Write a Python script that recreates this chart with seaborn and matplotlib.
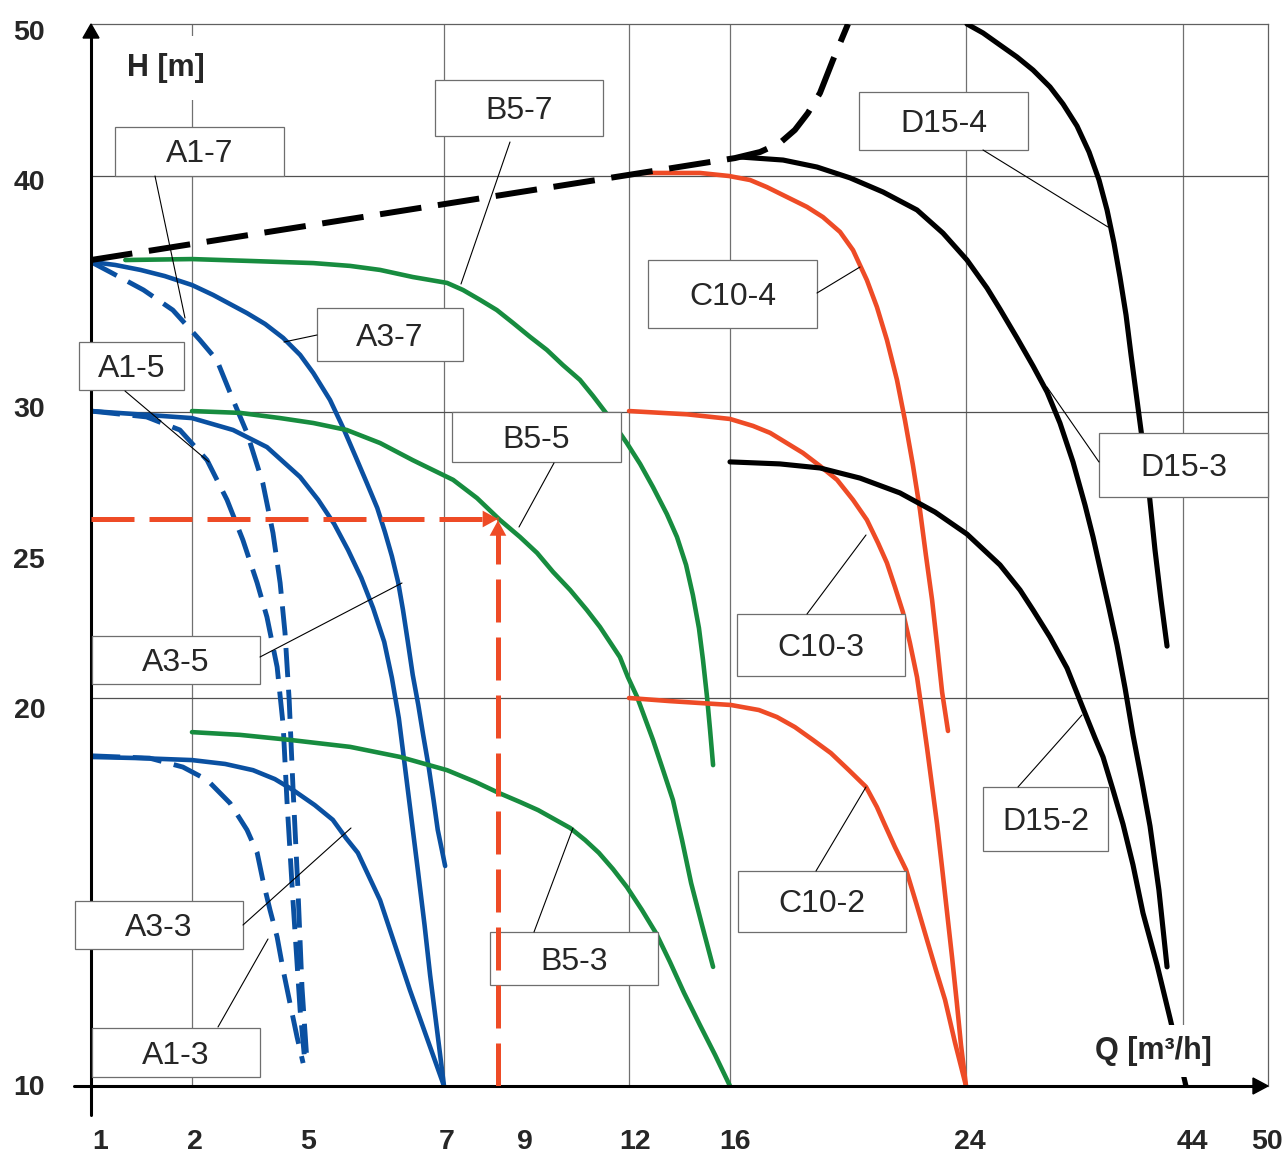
import numpy as np
import pandas as pd
import matplotlib
matplotlib.use("Agg")
import matplotlib.pyplot as plt
import matplotlib.transforms as mtransforms
from matplotlib.patches import Rectangle, Polygon
from matplotlib.lines import Line2D
import seaborn as sns

# Uneven axis scale used by the chart: tick values and their spacing (px)
q_ticks = [1, 2, 5, 7, 9, 12, 16, 24, 44, 50]
h_ticks = [10, 20, 25, 30, 40, 50]
q_span = [0, 101, 214, 353, 429, 538, 639, 875, 1092, 1177]
h_span = [0, 388, 529, 674, 910, 1062]
q_grid = [2, 7, 12, 16, 24, 44]
h_grid = [20, 30, 40]

# Envelope (black dashed)
env_q = [1.0, 16.17, 17.02, 17.69, 18.20, 18.64, 19.05, 19.49, 20.0]
env_h = [36.44, 41.18, 41.58, 42.17, 43.03, 44.14, 45.46, 47.63, 50.0]

# A series (blue)
a3_7_q = [1.0, 1.24, 1.49, 1.73, 2.0, 2.56, 3.46, 3.94, 4.42, 4.87, 5.12, 5.36, 5.55, 5.73, 5.89,
          6.04, 6.15, 6.25, 6.34, 6.41, 6.48, 6.55, 6.63, 6.70, 6.78, 6.85, 6.91, 6.97, 7.03]
a3_7_h = [36.36, 36.23, 36.02, 35.76, 35.38, 34.96, 34.19, 33.73, 33.14, 32.42, 31.65, 30.51, 29.45,
          28.45, 27.55, 26.69, 25.86, 25.03, 24.11, 23.12, 21.99, 20.82, 19.82, 19.05, 18.22, 17.37,
          16.60, 16.08, 15.67]
a3_5_q = [1.0, 1.55, 2.0, 3.09, 3.99, 4.87, 5.19, 5.42, 5.62, 5.81, 5.98, 6.14, 6.25, 6.35, 6.44,
          6.53, 6.62, 6.72, 6.80, 6.90, 7.0]
a3_5_h = [30.04, 29.90, 29.79, 29.38, 28.79, 27.76, 26.97, 26.14, 25.24, 24.26, 23.19, 21.99, 20.71,
          19.48, 18.20, 16.91, 15.62, 14.15, 12.86, 11.44, 10.0]
a3_3_q = [1.0, 1.49, 2.0, 2.88, 3.62, 4.20, 4.68, 5.14, 5.40, 5.59, 5.76, 6.08, 6.51, 7.0]
a3_3_h = [18.48, 18.45, 18.40, 18.30, 18.14, 17.91, 17.63, 17.24, 16.86, 16.39, 16.01, 14.79, 12.47, 10.0]
a1_7_q = [1.0, 1.19, 1.52, 1.81, 2.21, 2.66, 3.09, 3.46, 3.88, 4.15, 4.34, 4.47, 4.58, 4.68, 4.81,
          4.92, 5.03]
a1_7_h = [36.36, 35.93, 35.17, 34.32, 33.05, 32.20, 30.51, 29.28, 27.55, 25.83, 24.08, 22.30, 19.95,
          17.71, 15.13, 12.55, 10.59]
a1_5_q = [1.0, 1.55, 1.88, 2.40, 2.93, 3.35, 3.73, 3.99, 4.26, 4.42, 4.52, 4.68, 4.87, 5.0]
a1_5_h = [30.04, 29.83, 29.38, 28.34, 26.97, 25.59, 24.08, 22.87, 21.10, 19.30, 17.37, 14.79, 11.96, 10.59]
a1_3_q = [1.0, 1.58, 1.91, 2.40, 3.01, 3.46, 3.73, 3.88, 4.07, 4.26, 4.42, 4.60, 4.79, 4.95]
a1_3_h = [18.51, 18.45, 18.22, 17.89, 17.29, 16.60, 16.01, 15.31, 14.54, 13.84, 12.99, 12.14, 11.26, 10.59]

# B series (green)
b5_7_q = [1.34, 2.0, 3.54, 5.12, 5.65, 6.08, 6.55, 7.08, 7.50, 7.95, 8.39, 8.82, 9.28, 9.74, 10.18,
          10.65, 11.01, 11.39, 11.94, 12.44, 12.95, 13.50, 13.90, 14.26, 14.53, 14.77, 14.93, 15.09,
          15.21, 15.33]
b5_7_h = [36.44, 36.48, 36.40, 36.31, 36.19, 36.02, 35.72, 35.47, 35.17, 34.75, 34.32, 33.77, 33.18,
          32.63, 31.99, 31.36, 30.68, 29.93, 28.93, 28.21, 27.41, 26.48, 25.69, 24.72, 23.65, 22.48,
          21.35, 20.04, 19.18, 18.27]
b5_5_q = [2.0, 3.27, 4.34, 5.12, 5.60, 6.08, 6.55, 7.24, 7.87, 8.47, 9.0, 9.47, 9.91, 10.38, 10.84,
          11.20, 11.75, 11.97, 12.32, 12.95, 13.35, 13.74, 14.10, 14.46, 14.89, 15.33]
b5_5_h = [30.04, 29.97, 29.79, 29.62, 29.38, 28.93, 28.34, 27.66, 27.03, 26.28, 25.69, 25.14, 24.47,
          23.83, 23.12, 22.52, 21.45, 20.74, 20.04, 18.92, 18.14, 17.37, 16.34, 15.23, 14.15, 13.07]
b5_3_q = [2.0, 3.27, 4.60, 5.65, 6.37, 7.08, 7.82, 8.45, 9.0, 9.50, 10.38, 10.79, 11.17, 11.56, 11.94,
          12.51, 13.07, 13.62, 14.18, 14.81, 15.41, 16.0]
b5_3_h = [19.12, 19.05, 18.92, 18.74, 18.48, 18.14, 17.84, 17.55, 17.32, 17.11, 16.65, 16.34, 16.01,
          15.59, 15.13, 14.54, 13.94, 13.20, 12.40, 11.57, 10.80, 10.0]

# C series (red)
c10_4_q = [12.44, 14.81, 15.96, 16.68, 17.25, 17.93, 18.61, 19.15, 19.73, 20.17, 20.64, 20.98, 21.32,
           21.66, 21.93, 22.20, 22.44, 22.64, 22.85, 23.02, 23.19, 23.39]
c10_4_h = [40.20, 40.20, 40.0, 39.83, 39.53, 39.11, 38.69, 38.26, 37.63, 36.86, 35.59, 34.45, 33.05,
           31.36, 29.72, 28.17, 26.62, 25.07, 23.48, 21.88, 20.21, 19.15]
c10_3_q = [12.0, 14.30, 16.0, 16.78, 17.36, 18.47, 19.05, 19.63, 20.17, 20.64, 21.02, 21.32, 21.59,
           21.86, 22.10, 22.34, 22.51, 22.68, 22.85, 23.02, 23.19, 23.36, 23.53, 23.69, 23.83, 24.0]
c10_3_h = [30.04, 29.92, 29.76, 29.52, 29.28, 28.59, 28.14, 27.66, 26.97, 26.28, 25.48, 24.79, 23.94,
           23.05, 21.95, 20.74, 19.64, 18.71, 17.73, 16.75, 15.62, 14.46, 13.30, 12.14, 11.06, 10.0]
c10_2_q = [12.0, 13.62, 16.03, 16.98, 17.59, 18.20, 18.81, 19.42, 20.03, 20.61, 20.98, 21.22, 21.59,
           21.97, 22.31, 22.68, 22.98, 23.29, 23.63, 24.0]
c10_2_h = [20.0, 19.92, 19.82, 19.69, 19.51, 19.25, 18.92, 18.58, 18.14, 17.71, 17.19, 16.78, 16.16,
           15.57, 14.72, 13.76, 12.99, 12.22, 11.11, 10.0]

# D series (black)
d15_4_q = [24.09, 25.57, 27.13, 28.70, 30.18, 31.74, 32.94, 34.23, 35.34, 36.26, 37.00, 37.64, 38.19,
           38.75, 39.21, 39.76, 40.31, 40.87, 41.42, 41.97, 42.53]
d15_4_h = [50.0, 49.41, 48.62, 47.83, 46.97, 45.86, 44.74, 43.29, 41.58, 39.83, 38.56, 37.16, 35.72,
           34.11, 32.42, 30.51, 28.86, 27.24, 25.24, 23.48, 21.84]
d15_3_q = [16.34, 17.80, 18.95, 20.07, 21.19, 22.34, 23.22, 24.09, 25.94, 27.13, 28.70, 30.18, 31.47,
           32.66, 33.86, 34.97, 35.71, 36.35, 37.18, 37.92, 38.66, 39.39, 40.22, 40.96, 41.78, 42.53]
d15_3_h = [41.25, 41.05, 40.59, 39.92, 39.32, 38.56, 37.58, 36.44, 35.25, 34.36, 33.14, 31.95, 30.85,
           29.62, 28.28, 26.79, 25.69, 24.61, 23.19, 21.88, 20.35, 19.05, 17.84, 16.70, 15.05, 13.07]
d15_2_q = [16.0, 17.69, 19.05, 20.41, 21.76, 22.95, 24.09, 27.13, 28.98, 30.18, 31.74, 33.31, 34.78,
           35.89, 36.63, 37.55, 38.47, 39.39, 40.31, 41.61, 42.80, 44.21]
d15_2_h = [28.28, 28.21, 28.07, 27.72, 27.21, 26.55, 25.79, 24.72, 23.83, 23.12, 22.16, 21.06, 19.74,
           18.97, 18.48, 17.63, 16.75, 15.70, 14.46, 13.12, 11.75, 10.0]

# Operating point (red dashed arrows)
q_op = 8.42
h_op = 26.31

BLUE = "#0A50A1"
GREEN = "#178C3F"
RED = "#EE4B26"
W, H = 1284, 1154

sns.set_style("white")
plt.rcParams["font.family"] = ["Liberation Sans", "DejaVu Sans"]

fig = plt.figure(figsize=(W / 100, H / 100), dpi=100)
ax = fig.add_axes([91 / W, 1 - 1086 / H, 1177 / W, 1062 / H])

ax.set_xscale("function", functions=(lambda v: np.interp(v, q_ticks, q_span),
                                     lambda p: np.interp(p, q_span, q_ticks)))
ax.set_yscale("function", functions=(lambda v: np.interp(v, h_ticks, h_span),
                                     lambda p: np.interp(p, h_span, h_ticks)))
ax.set_xlim(1, 50)
ax.set_ylim(10, 50)

# grid
for q in q_grid:
    ax.axvline(q, color="#707070", lw=0.9, zorder=1)
for h in h_grid:
    ax.axhline(h, color="#505050", lw=0.9, zorder=1)

dash_a1 = (0, (6, 2.6))
curves = [
    (a1_7_q, a1_7_h, BLUE, dash_a1, 3.5),
    (a1_5_q, a1_5_h, BLUE, dash_a1, 3.5),
    (a1_3_q, a1_3_h, BLUE, dash_a1, 3.5),
    (a3_7_q, a3_7_h, BLUE, "-", 3.3),
    (a3_5_q, a3_5_h, BLUE, "-", 3.3),
    (a3_3_q, a3_3_h, BLUE, "-", 3.3),
    (b5_7_q, b5_7_h, GREEN, "-", 3.3),
    (b5_5_q, b5_5_h, GREEN, "-", 3.3),
    (b5_3_q, b5_3_h, GREEN, "-", 3.3),
    (c10_4_q, c10_4_h, RED, "-", 3.3),
    (c10_3_q, c10_3_h, RED, "-", 3.3),
    (c10_2_q, c10_2_h, RED, "-", 3.3),
    (d15_4_q, d15_4_h, "black", "-", 3.7),
    (d15_3_q, d15_3_h, "black", "-", 3.7),
    (d15_2_q, d15_2_h, "black", "-", 3.7),
]
for q, h, c, ls, lw in curves:
    sns.lineplot(x=q, y=h, ax=ax, color=c, linestyle=ls, lw=lw, sort=False,
                 estimator=None, legend=False, zorder=3, solid_joinstyle="round")

# envelope
sns.lineplot(x=env_q, y=env_h, ax=ax, color="black", linestyle=(0, (7, 2.8)),
             lw=4.3, sort=False, estimator=None, legend=False, zorder=3.5)

# operating point
sns.lineplot(x=[1, q_op], y=[h_op, h_op], ax=ax, color=RED, linestyle=(0, (8.6, 3)),
             lw=3.6, sort=False, estimator=None, legend=False, zorder=7)
sns.lineplot(x=[q_op, q_op], y=[10, h_op - 0.3], ax=ax, color=RED, linestyle=(0, (8.6, 3)),
             lw=3.6, sort=False, estimator=None, legend=False, zorder=7)
head = dict(arrowstyle="-|>,head_length=0.55,head_width=0.3", mutation_scale=20,
            color=RED, lw=0, shrinkA=0, shrinkB=0)
ax.annotate("", xy=(q_op, h_op), xytext=(-11, 0), textcoords="offset points",
            arrowprops=head, zorder=7)
ax.annotate("", xy=(q_op, h_op - 0.05), xytext=(0, -11), textcoords="offset points",
            arrowprops=head, zorder=7)

# frame: thin top/right, thick arrowed axes
for s in ["top", "right"]:
    ax.spines[s].set_color("#606060")
    ax.spines[s].set_linewidth(0.9)
for s in ["left", "bottom"]:
    ax.spines[s].set_visible(False)
ax.add_line(Line2D([0, 0], [-29 / 1062, 1 - 10 / 1062], transform=ax.transAxes,
                   color="black", lw=2.2, clip_on=False, zorder=4))
ax.add_line(Line2D([-17 / 1177, 1 - 10 / 1177], [0, 0], transform=ax.transAxes,
                   color="black", lw=2.2, clip_on=False, zorder=4))
dx, dy = 8 / 1177, 14 / 1062
ax.add_patch(Polygon([(0, 1), (-dx, 1 - dy), (dx, 1 - dy)], closed=True,
                     transform=ax.transAxes, color="black", clip_on=False, zorder=4))
dx, dy = 15 / 1177, 8 / 1062
ax.add_patch(Polygon([(1, 0), (1 - dx, dy), (1 - dx, -dy)], closed=True,
                     transform=ax.transAxes, color="black", clip_on=False, zorder=4))

# ticks (labels nudged a few px like the original text boxes)
ax.set_xticks(q_ticks)
ax.set_xticklabels([str(v) for v in q_ticks])
ax.set_yticks(h_ticks)
ax.set_yticklabels([str(v) for v in h_ticks])
ax.tick_params(axis="x", length=0, pad=31, labelsize=20.5)
ax.tick_params(axis="y", length=0, pad=33, labelsize=20.5)
x_nudge = [9, 3, 3, 3, 5, 6, 5, 4, 9, -1]
y_nudge = [-1, 10, 1, -5, 4, 6]
for t, d in zip(ax.get_xticklabels(), x_nudge):
    t.set_fontweight("bold")
    t.set_transform(t.get_transform() + mtransforms.ScaledTranslation(d / 100, 0, fig.dpi_scale_trans))
for t, d in zip(ax.get_yticklabels(), y_nudge):
    t.set_fontweight("bold")
    t.set_transform(t.get_transform() + mtransforms.ScaledTranslation(0, -d / 100, fig.dpi_scale_trans))
ax.set_xlabel("")
ax.set_ylabel("")


def fp(x, y):
    return x / W, 1 - y / H


# axis titles with white backgrounds
ax.text(*fp(166, 68), "H [m]", transform=fig.transFigure, ha="center", va="center",
        fontsize=22, fontweight="bold", zorder=8,
        bbox=dict(boxstyle="square,pad=0.55", fc="white", ec="none"))
ax.text(*fp(1153, 1051), "Q [m³/h]", transform=fig.transFigure, ha="center", va="center",
        fontsize=22, fontweight="bold", zorder=8,
        bbox=dict(boxstyle="square,pad=0.35", fc="white", ec="none"))

# curve labels: text, box (x0, y0, x1, y1), leader start, leader end (px)
labels = [
    ("A1-7", (115, 127, 284, 176), (155, 176), (185, 318)),
    ("B5-7", (435, 80, 603, 136), (510, 142), (461, 284)),
    ("A3-7", (317, 308, 463, 361), (317, 335), (284, 342)),
    ("A1-5", (79, 342, 184, 390), (125, 391), (209, 462)),
    ("B5-5", (452, 412, 621, 462), (554, 463), (519, 527)),
    ("C10-4", (648, 260, 817, 328), (817, 293), (860, 267)),
    ("D15-4", (859, 92, 1028, 150), (983, 150), (1108, 227)),
    ("D15-3", (1099, 433, 1268, 497), (1099, 462), (1047, 387)),
    ("A3-5", (92, 636, 260, 684), (260, 657), (402, 583)),
    ("C10-3", (737, 614, 905, 676), (807, 614), (866, 535)),
    ("A3-3", (75, 901, 243, 949), (243, 925), (351, 828)),
    ("A1-3", (92, 1028, 260, 1077), (218, 1027), (268, 939)),
    ("B5-3", (490, 932, 658, 985), (534, 932), (573, 828)),
    ("C10-2", (738, 871, 906, 932), (816, 871), (866, 787)),
    ("D15-2", (983, 787, 1108, 851), (1018, 787), (1082, 715)),
]
for txt, (x0, y0, x1, y1), p0, p1 in labels:
    ax.add_patch(Rectangle(fp(x0, y1), (x1 - x0) / W, (y1 - y0) / H,
                           transform=fig.transFigure, fc="white", ec="#6e6e6e",
                           lw=0.9, clip_on=False, zorder=5))
    ax.text(*fp((x0 + x1) / 2, (y0 + y1) / 2 + 3), txt, transform=fig.transFigure,
            ha="center", va="center", fontsize=23, zorder=6)
    a, b = fp(*p0), fp(*p1)
    ax.add_line(Line2D([a[0], b[0]], [a[1], b[1]], transform=fig.transFigure,
                       color="black", lw=0.8, clip_on=False, zorder=5.5))

fig.savefig("out.png", dpi=100)
